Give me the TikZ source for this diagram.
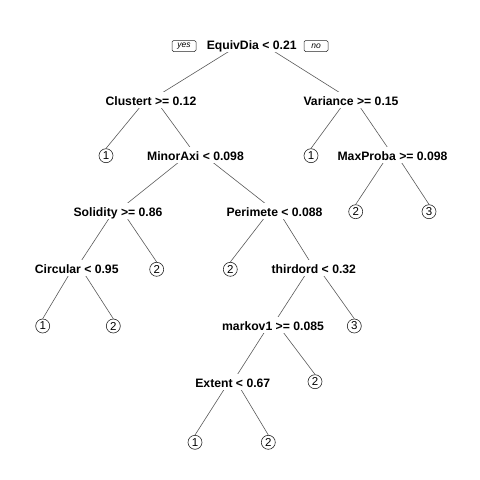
\documentclass[tikz,border=0pt]{standalone}
\usepackage{fontspec}
\setmainfont{Liberation Sans}
\usetikzlibrary{backgrounds}

\tikzset{
  splitlab/.style={anchor=base,fill=white,inner xsep=2pt,inner ysep=0pt,
    text height=14pt,text depth=2.5pt,font=\fontsize{12.2}{14}\selectfont\bfseries},
  leaf/.style={circle,draw=black!85,fill=white,line width=0.6pt,
    minimum size=14pt,inner sep=0pt,font=\fontsize{11.5}{12}\selectfont},
  yesno/.style={draw=black!85,rounded corners=1.5pt,line width=0.5pt,
    minimum width=24pt,minimum height=11pt,inner sep=0pt,
    font=\fontsize{8.5}{9}\selectfont\itshape},
  branch/.style={draw=black!65,line width=0.6pt}
}

\begin{document}
\begin{tikzpicture}[x=1pt,y=-1pt]
    \useasboundingbox (0,0) rectangle (480,480);

    % split labels
    \node[splitlab] (root) at (251.7,49) {EquivDia < 0.21};
    \node[splitlab] (clu) at (151,105.5) {Clustert >= 0.12};
    \node[splitlab] (var) at (351,105.5) {Variance >= 0.15};
    \node[splitlab] (mia) at (195.5,160.5) {MinorAxi < 0.098};
    \node[splitlab] (map) at (392.5,160.5) {MaxProba >= 0.098};
    \node[splitlab] (sol) at (118,216.5) {Solidity >= 0.86};
    \node[splitlab] (per) at (274.5,216.5) {Perimete < 0.088};
    \node[splitlab] (cir) at (76.7,273.5) {Circular < 0.95};
    \node[splitlab] (thi) at (313.8,273.5) {thirdord < 0.32};
    \node[splitlab] (mar) at (273,330.5) {markov1 >= 0.085};
    \node[splitlab] (ext) at (232.8,387.5) {Extent < 0.67};

    % leaves
    \node[leaf] (l1a) at (106,155.7) {1};
    \node[leaf] (l1b) at (311,155.7) {1};
    \node[leaf] (l2a) at (355.7,211.7) {2};
    \node[leaf] (l3a) at (429,211.7) {3};
    \node[leaf] (l2b) at (156.7,269.3) {2};
    \node[leaf] (l2c) at (230.3,269.3) {2};
    \node[leaf] (l1c) at (42.7,326) {1};
    \node[leaf] (l2d) at (113.3,326) {2};
    \node[leaf] (l3b) at (354.3,326) {3};
    \node[leaf] (l2e) at (315,381.7) {2};
    \node[leaf] (l1d) at (195,442.3) {1};
    \node[leaf] (l2f) at (268.3,442.3) {2};

    \node[yesno] (yes) at (184,46) {yes};
    \node[yesno] (no) at (316,46) {no};

    % branches
    \begin{pgfonlayer}{background}
    \foreach \p/\c in {root/clu,root/var,clu/mia,var/map,mia/sol,mia/per,
                       sol/cir,per/thi,thi/mar,mar/ext}
        \draw[branch] ([yshift=6pt]\p.center) -- (\c.center);
    \foreach \p/\c in {clu/l1a,var/l1b,map/l2a,map/l3a,sol/l2b,per/l2c,
                       cir/l1c,cir/l2d,thi/l3b,mar/l2e,ext/l1d,ext/l2f}
        \draw[branch] ([yshift=6pt]\p.center) -- (\c.north);
    \end{pgfonlayer}
\end{tikzpicture}
\end{document}
